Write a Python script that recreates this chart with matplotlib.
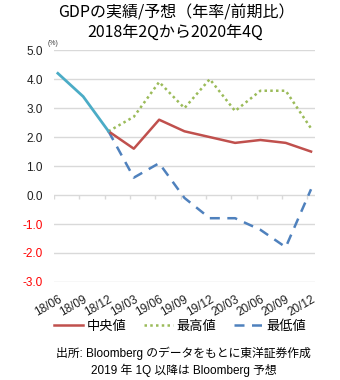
import matplotlib
matplotlib.use('Agg')
import matplotlib.pyplot as plt
from matplotlib.lines import Line2D

plt.rcParams['font.family'] = ['Liberation Sans', 'Noto Sans CJK JP', 'DejaVu Sans']

# データ
quarters = ['18/06', '18/09', '18/12', '19/03', '19/06', '19/09',
            '19/12', '20/03', '20/06', '20/09', '20/12']
actual = [4.2, 3.4, 2.2]
median = [2.2, 1.6, 2.6, 2.2, 2.0, 1.8, 1.9, 1.8, 1.5]
high = [2.2, 2.7, 3.9, 3.0, 4.0, 2.9, 3.6, 3.6, 2.3]
low = [2.2, 0.6, 1.1, -0.1, -0.8, -0.8, -1.2, -1.8, 0.2]
yticks = [5.0, 4.0, 3.0, 2.0, 1.0, 0.0, -1.0, -2.0, -3.0]

x = list(range(len(quarters)))
xf = x[2:]

fig = plt.figure(figsize=(3.4, 3.8), dpi=100)
ax = fig.add_axes([0.159, 0.258, 0.767, 0.610])

for v in yticks:
    ax.axhline(v, color='#d9d9d9', lw=1.0, zorder=0)

ax.plot(xf, high, color='#9bbb59', lw=1.8, ls=(0, (1, 1.3)), zorder=2)
ax.plot(xf, low, color='#4f81bd', lw=1.8, ls=(0, (4, 3)), zorder=2)
ax.plot(xf, median, color='#c0504d', lw=1.8, zorder=3)
ax.plot(x[:3], actual, color='#4bacc6', lw=2.0, zorder=4)

# 0の位置の目盛り
ax.vlines([i - 0.15 for i in x], -0.15, 0, color='#d9d9d9', lw=1.0, zorder=0)

ax.set_xlim(-0.15, 10.15)
ax.set_ylim(-3.0, 5.0)
ax.set_yticks(yticks)
ax.set_yticklabels(['%.1f' % v for v in yticks], fontsize=8.5)
for lbl, v in zip(ax.get_yticklabels(), yticks):
    lbl.set_color('red' if v < 0 else '#202020')
ax.set_xticks(x)
ax.set_xticklabels(quarters, fontsize=8.5, rotation=30, ha='right',
                   rotation_mode='anchor', color='#202020')
ax.tick_params(length=0, pad=8)
ax.tick_params(axis='x', pad=8)
for s in ax.spines.values():
    s.set_visible(False)

ax.text(0.018, 1.012, '(%)', transform=ax.transAxes, fontsize=5,
        ha='right', va='bottom', color='#404040')

fig.text(0.52, 0.965, 'GDPの実績/予想（年率/前期比）', ha='center', va='center',
         fontsize=11.5, family=['Noto Sans CJK JP'])
fig.text(0.515, 0.915, '2018年2Qから2020年4Q', ha='center', va='center',
         fontsize=11.5, family=['Noto Sans CJK JP'])

handles = [Line2D([], [], color='#c0504d', lw=1.8),
           Line2D([], [], color='#9bbb59', lw=1.8, ls=(0, (1, 1.3))),
           Line2D([], [], color='#4f81bd', lw=1.8, ls=(0, (4, 3)))]
fig.legend(handles, ['中央値', '最高値', '最低値'], loc='center',
           bbox_to_anchor=(0.53, 0.142), ncol=3, frameon=False,
           prop={'family': 'Noto Sans CJK JP', 'size': 9.5},
           handlelength=2.2, handletextpad=0.3, columnspacing=1.3)

fig.text(0.54, 0.071, '出所: Bloomberg のデータをもとに東洋証券作成',
         ha='center', va='center', fontsize=8.5,
         family=['Liberation Sans', 'Noto Sans CJK JP'])
fig.text(0.54, 0.026, '2019 年 1Q 以降は Bloomberg 予想',
         ha='center', va='center', fontsize=8.5,
         family=['Liberation Sans', 'Noto Sans CJK JP'])

fig.savefig('out.png', dpi=100)
